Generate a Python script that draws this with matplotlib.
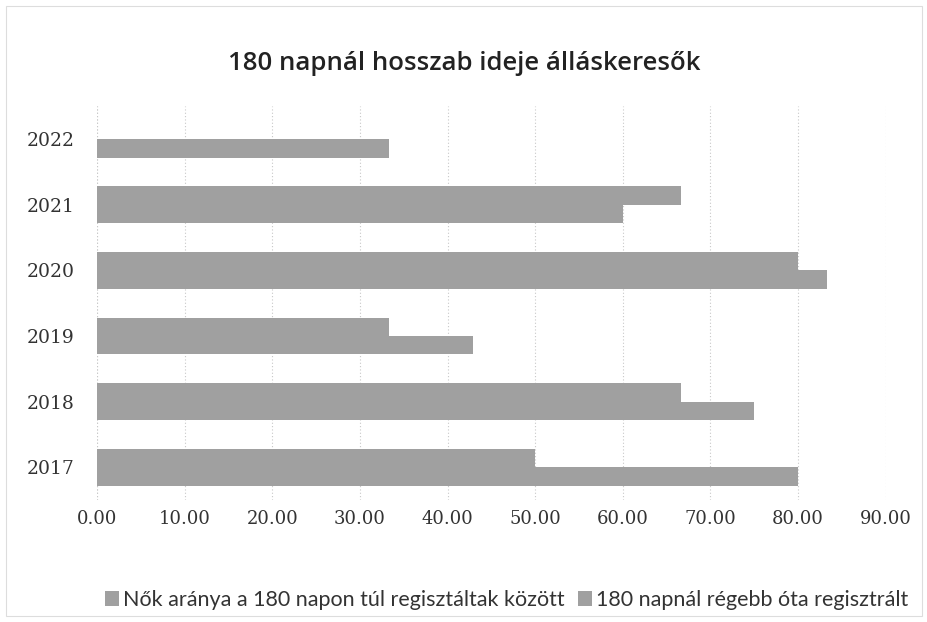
import numpy as np
import matplotlib.pyplot as plt

years = ["2017", "2018", "2019", "2020", "2021", "2022"]
# first legend entry: lower bar of each pair
women_share = [80.00, 75.00, 42.86, 83.33, 60.00, 33.33]
# second legend entry: upper bar of each pair (no value for 2022)
over_180 = [50.00, 66.67, 33.33, 80.00, 66.67, np.nan]

labels = ["Nők aránya a 180 napon túl regisztáltak között",
          "180 napnál régebb óta regisztrált"]
title = "180 napnál hosszab ideje álláskeresők"

bar_color = "#a0a0a0"
h = 0.28

fig = plt.figure(figsize=(9.28, 6.22), dpi=100)
ax = fig.add_axes([0.1045, 0.196, 0.850, 0.633])

y = np.arange(len(years))
ax.barh(y - h / 2, women_share, height=h, color=bar_color,
        linewidth=0, label=labels[0], zorder=2)
mask = ~np.isnan(over_180)
ax.barh(y[mask] + h / 2, np.array(over_180)[mask], height=h, color=bar_color,
        linewidth=0, label=labels[1], zorder=2)

ax.set_xlim(0, 90)
ax.set_ylim(-0.5, len(years) - 0.5)
ax.set_xticks(np.arange(0, 91, 10))
ax.set_xticklabels([f"{v:.2f}" for v in np.arange(0, 91, 10)])
ax.set_yticks(y)
ax.set_yticklabels(years)

ax.grid(axis="x", color="#c8c8c8", linestyle=(0, (1, 2)), linewidth=0.8, zorder=0)
for s in ax.spines.values():
    s.set_visible(False)
ax.axvline(0, color="#d0d0d0", linestyle=(0, (1, 2)), linewidth=0.8, zorder=1)

ax.tick_params(axis="both", length=0, labelcolor="#333333")
ax.tick_params(axis="y", pad=16)
ax.tick_params(axis="x", pad=7)
for t in ax.get_xticklabels():
    t.set_fontfamily(["DejaVu Serif"])
    t.set_fontsize(13)
for t in ax.get_yticklabels():
    t.set_fontfamily(["DejaVu Serif"])
    t.set_fontsize(13.5)

fig.text(0.5, 0.898, title, ha="center", va="center", fontsize=18.5,
         family=["Open Sans", "DejaVu Sans"], weight="semibold", color="#222222")

fig.legend(loc="center", bbox_to_anchor=(0.546, 0.035), ncol=2, frameon=False,
           prop={"family": ["Lato", "DejaVu Sans"], "size": 15.5},
           handlelength=0.65, handleheight=0.65, handletextpad=0.2, columnspacing=0.6,
           labelcolor="#333333")

# faint outer border of the chart area
border = plt.Rectangle((0.006, 0.01), 0.988, 0.98, transform=fig.transFigure,
                       fill=False, edgecolor="#dddddd", linewidth=0.8)
fig.patches.append(border)

fig.savefig("out.png", dpi=100)
